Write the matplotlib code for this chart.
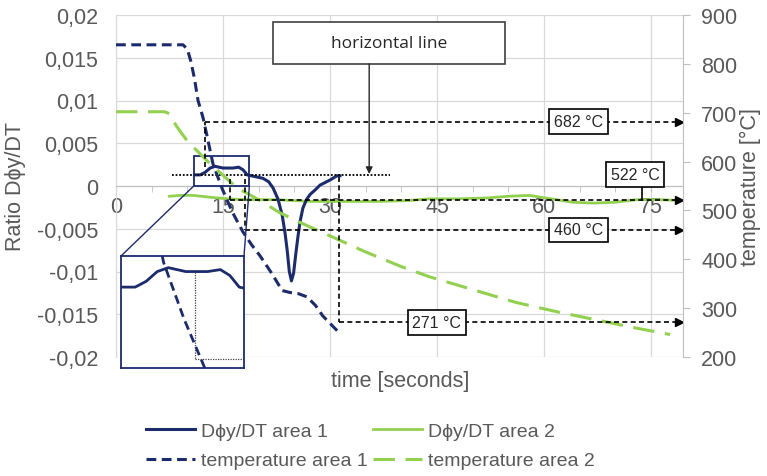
import matplotlib
matplotlib.use("Agg")
import matplotlib.pyplot as plt
from matplotlib.patches import Rectangle, ConnectionPatch

plt.rcParams['font.family'] = ['Liberation Sans', 'DejaVu Sans']

NAVY = '#1c2b6c'
GREEN = '#92d050'
GRID = '#d9d9d9'
TXT = '#595959'

# D(phi)y/DT, area 1 (left axis)
t_ratio1 = [11.0, 11.8, 12.5, 13.2, 13.9, 15.0, 16.4, 17.2, 17.8, 18.4, 19.5, 20.6, 21.4,
            22.0, 22.7, 23.3, 23.7, 24.0, 24.3, 24.6, 24.9, 25.2, 25.5, 25.8, 26.2, 26.7,
            27.2, 28.0, 28.6, 29.3, 30.0, 31.0, 31.4]
ratio1 = [0.0013, 0.0013, 0.0016, 0.0021, 0.0023, 0.0021, 0.0021, 0.0022, 0.0019, 0.0013,
          0.0011, 0.0009, 0.0005, -0.0002, -0.0015, -0.0034, -0.0055, -0.0075, -0.0100,
          -0.0111, -0.0102, -0.0080, -0.0060, -0.0042, -0.0026, -0.0016, -0.0010, -0.0004,
          0.0001, 0.0004, 0.0007, 0.0012, 0.0012]

# D(phi)y/DT, area 2 (left axis)
t_ratio2 = [7.5, 9, 10.9, 13, 15.6, 18, 22.6, 27.2, 32, 37, 41, 44, 48, 52, 55, 58, 61, 64,
            67, 70, 73, 76, 79.5]
ratio2 = [-0.0012, -0.0011, -0.0011, -0.0013, -0.0015, -0.0016, -0.0016, -0.0018, -0.0018,
          -0.0018, -0.0017, -0.0015, -0.0015, -0.0014, -0.0012, -0.0011, -0.0015, -0.0019,
          -0.0020, -0.0019, -0.0016, -0.0016, -0.0017]

# temperature, area 1 (right axis)
t_temp1 = [0, 9.4, 10.0, 10.5, 11.0, 11.5, 12.2, 12.8, 13.6, 14.9, 16.3, 17.8, 19.0, 20.2,
           21.8, 23.3, 24.4, 25.5, 26.8, 28.0, 29.0, 30.2, 31.4]
temp1 = [839, 839, 830, 805, 770, 725, 690, 650, 595, 544, 497, 456, 430, 407, 372, 336, 332,
         330, 323, 305, 284, 266, 248]

# temperature, area 2 (right axis)
t_temp2 = [0, 6.8, 7.5, 8.5, 10, 11.5, 13, 15, 17, 20, 23, 26, 30, 35, 40, 44, 50, 56, 62,
           68, 73, 77.7]
temp2 = [702, 702, 698, 672, 642, 620, 598, 572, 546, 522, 495, 474, 448, 415, 385, 364, 338,
         312, 292, 274, 259, 246]

# marked temperatures: (value, start time, top of the drop line, label time)
marks = [(682, 12.5, 589, 64.8), (522, 16.0, 565, None), (460, 18.1, 565, 64.8),
         (271, 31.2, 569, 45.0)]

x_ticks = [0, 15, 30, 45, 60, 75]
y_left = [-0.02, -0.015, -0.01, -0.005, 0, 0.005, 0.01, 0.015, 0.02]
y_left_labels = ['-0,02', '-0,015', '-0,01', '-0,005', '0', '0,005', '0,01', '0,015', '0,02']
y_right = [200, 300, 400, 500, 600, 700, 800, 900]

fig = plt.figure(figsize=(7.67, 4.77), dpi=100)
ax = fig.add_axes([116 / 767, 1 - 358 / 477, 567 / 767, 342 / 477])
ax2 = ax.twinx()

l_r1, = ax.plot(t_ratio1, ratio1, color=NAVY, lw=2.2, label='D\u03d5y/DT area 1', zorder=4)
l_r2, = ax.plot(t_ratio2, ratio2, color=GREEN, lw=2.0, label='D\u03d5y/DT area 2', zorder=3)
l_t1, = ax2.plot(t_temp1, temp1, color=NAVY, lw=2.2, dashes=(3.2, 1.8), label='temperature area 1')
l_t2, = ax2.plot(t_temp2, temp2, color=GREEN, lw=2.2, dashes=(7, 3.5), label='temperature area 2')

ax.set_xlim(0, 79.5)
ax.set_ylim(-0.02, 0.02)
ax2.set_ylim(200, 900)

ax.set_xticks(x_ticks)
ax.set_xticks(range(0, 80, 5), minor=True)
ax.set_yticks(y_left)
ax.set_yticklabels(y_left_labels)
ax2.set_yticks(y_right)

ax.grid(True, color=GRID, lw=0.9)
ax.set_axisbelow(True)
ax.spines['bottom'].set_position(('data', 0))
for side in ['top', 'right']:
    ax.spines[side].set_visible(False)
for side in ['top', 'left', 'bottom']:
    ax2.spines[side].set_visible(False)
ax.spines['bottom'].set_color('#bfbfbf')
ax.spines['left'].set_color(GRID)
ax2.spines['right'].set_color('#bfbfbf')

ax.tick_params(axis='x', which='both', direction='out', length=4, color='#bfbfbf',
               labelsize=15.5, labelcolor=TXT, pad=3)
ax.tick_params(axis='y', length=0, labelsize=15.5, labelcolor=TXT, pad=13)
ax2.tick_params(axis='y', length=5, color='#bfbfbf', labelsize=15.5, labelcolor=TXT, pad=8)

ax.set_ylabel('Ratio D\u03d5y/DT', fontsize=15.5, color=TXT)
ax.yaxis.set_label_coords(-0.158, 0.5)
ax2.set_ylabel('temperature [\u00b0C]', fontsize=15.5, color=TXT)
ax2.yaxis.set_label_coords(1.1, 0.5)
fig.text(400 / 767, 1 - 381 / 477, 'time [seconds]', fontsize=15.5, color=TXT,
         ha='center', va='center')

# dashed marker lines with arrows to the temperature axis
dash = dict(color='black', lw=1.2, dashes=(3, 2))
box = dict(boxstyle='square,pad=0.3', fc='white', ec='black', lw=1.2)
for temp, t0, top, t_lab in marks:
    ax2.plot([t0, t0], [top, temp], **dash)
    ax2.plot([t0, 79.0], [temp, temp], **dash)
    ax2.plot([79.0], [temp], marker='>', ms=6, color='black', clip_on=False)
    if t_lab is not None:
        ax2.text(t_lab, temp, f'{temp} \u00b0C', fontsize=11.5, color='#262626',
                 ha='center', va='center', bbox=box)
ax2.plot([73.7, 73.7], [522, 548], color='black', lw=1.2)
ax2.text(72.8, 574, '522 \u00b0C', fontsize=11.5, color='#262626', ha='center',
         va='center', bbox=box)

# horizontal reference line with its callout
ax.plot([7.9, 38.4], [0.0013, 0.0013], color='black', lw=1.3, ls=(0, (1, 1)), zorder=5)
ax.add_patch(Rectangle((22.0, 0.01427), 32.6, 0.00491, fc='white', ec='#404040', lw=1.2,
                       zorder=6))
ax.text(38.3, 0.01673, 'horizontal line', fontsize=12.5, family=['Open Sans', 'DejaVu Sans'],
        color='#262626', ha='center', va='center', zorder=7)
ax.annotate('', xy=(35.5, 0.0014), xytext=(35.5, 0.01427),
            arrowprops=dict(arrowstyle='-|>', color='#262626', lw=1.0, mutation_scale=10,
                            shrinkA=0, shrinkB=0), zorder=6)

# zoomed view of the first peak
x0, x1, y0, y1 = 10.9, 18.7, -0.00286, 0.0029
ax.add_patch(Rectangle((x0, 0), x1 - x0, 0.0035, fill=False, ec=NAVY, lw=1.3, zorder=6))
axins = fig.add_axes([121 / 767, 1 - 369 / 477, 123 / 767, 112 / 477])
axins.plot(t_ratio1, ratio1, color=NAVY, lw=2.0)
axins.plot(t_temp1, [(v - 550) / 350 * 0.02 for v in temp1], color=NAVY, lw=2.0,
           dashes=(3.2, 1.8))
axins.plot([15.6, 15.6], [0.0021, -0.0024], color='#404040', lw=0.9, ls=(0, (1, 1)))
axins.plot([15.6, x1], [-0.0024, -0.0024], color='#404040', lw=0.9, ls=(0, (1, 1)))
axins.set_xlim(x0, x1)
axins.set_ylim(y0, y1)
axins.set_xticks([])
axins.set_yticks([])
for s in axins.spines.values():
    s.set_color(NAVY)
    s.set_linewidth(1.3)
for xa, xb in [(x0, 0), (x1, 1)]:
    con = ConnectionPatch(xyA=(xa, 0), coordsA=ax.transData, xyB=(xb, 1),
                          coordsB=axins.transAxes, color=NAVY, lw=1.0)
    fig.add_artist(con)

fig.legend([l_r1, l_t1, l_r2, l_t2],
           [l_r1.get_label(), l_t1.get_label(), l_r2.get_label(), l_t2.get_label()],
           ncol=2, loc='center', bbox_to_anchor=(0.483, 0.063), frameon=False,
           fontsize=14, labelcolor=TXT, handlelength=2.5, handletextpad=0.3,
           columnspacing=0.3, labelspacing=0.6)

fig.savefig('out.png', dpi=100)
